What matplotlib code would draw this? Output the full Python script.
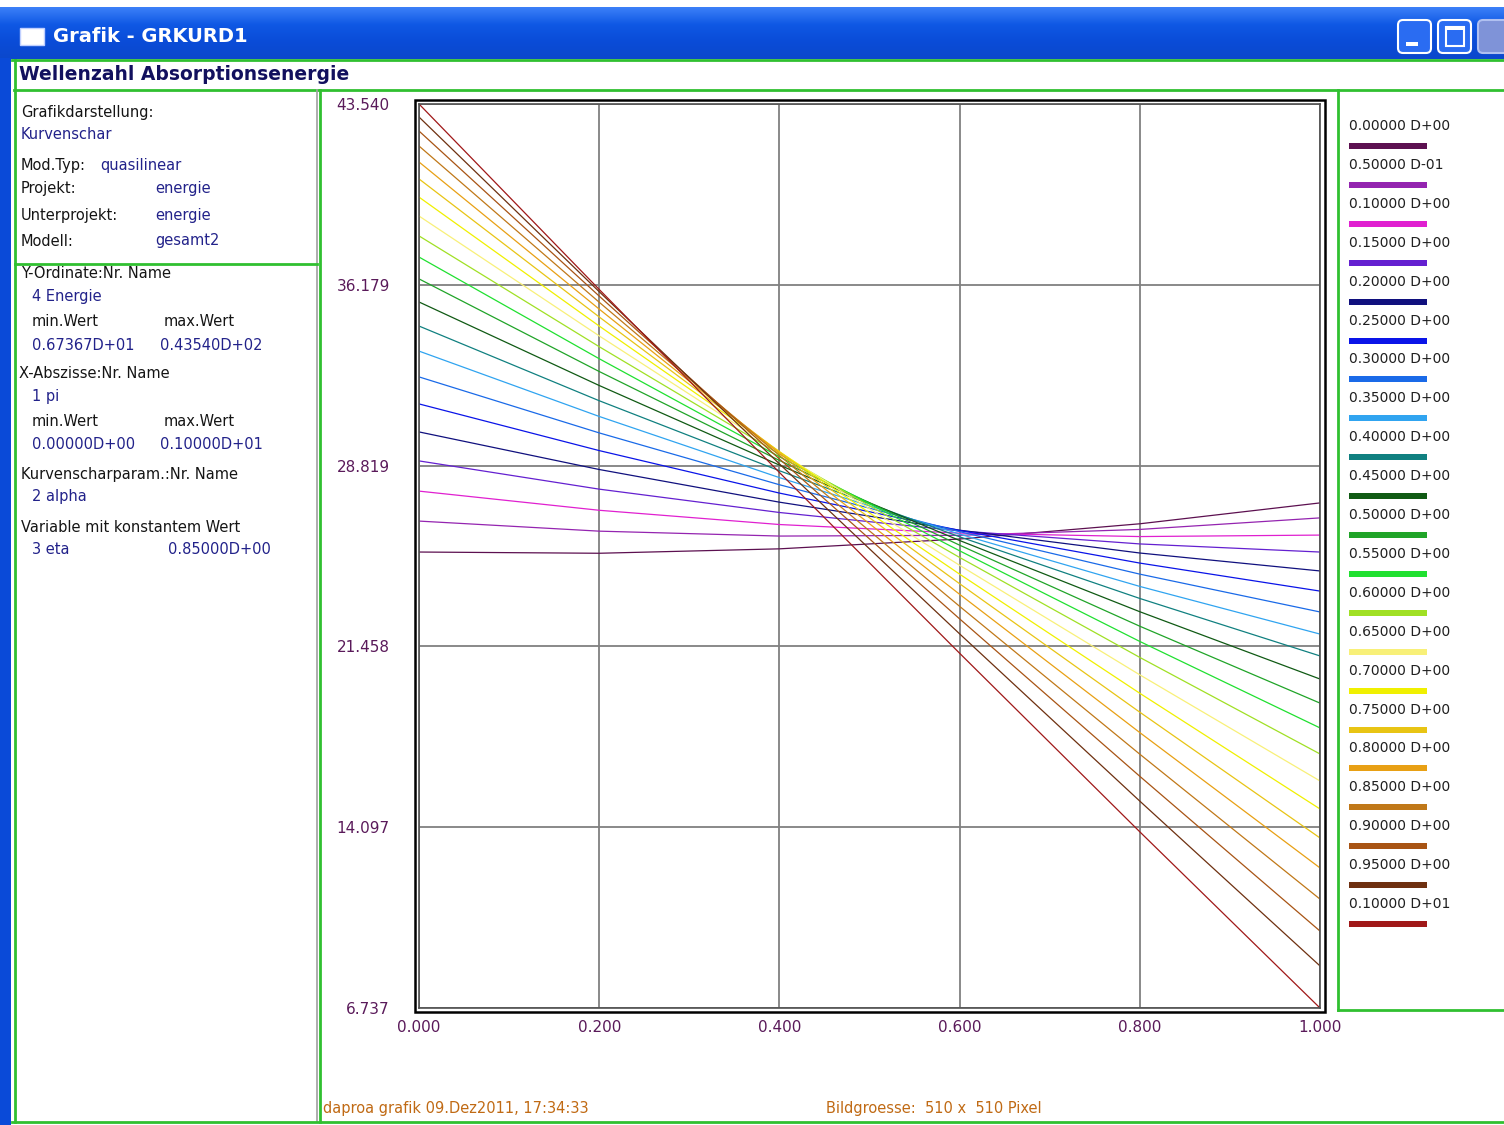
import matplotlib.pyplot as plt
import numpy as np
from matplotlib.patches import Rectangle, FancyBboxPatch
from matplotlib.lines import Line2D
from matplotlib.colors import LinearSegmentedColormap

W, H = 1504, 1125

# x = pi, one curve per alpha (eta = 0.85 fixed)
pi_vals = [0.0, 0.2, 0.4, 0.6, 0.8, 1.0]
alpha_labels = ["0.00000 D+00", "0.50000 D-01", "0.10000 D+00", "0.15000 D+00",
                "0.20000 D+00", "0.25000 D+00", "0.30000 D+00", "0.35000 D+00",
                "0.40000 D+00", "0.45000 D+00", "0.50000 D+00", "0.55000 D+00",
                "0.60000 D+00", "0.65000 D+00", "0.70000 D+00", "0.75000 D+00",
                "0.80000 D+00", "0.85000 D+00", "0.90000 D+00", "0.95000 D+00",
                "0.10000 D+01"]
curve_colors = ["#5c1050", "#9424b0", "#e020d0", "#6420d0", "#10107e", "#0a14e8",
                "#1a6ae8", "#30a4f0", "#108080", "#105a14", "#20a428", "#20e030",
                "#a0e024", "#f8f078", "#f0f000", "#e8c414", "#e8a014", "#c07818",
                "#a85414", "#6e3010", "#a01818"]
energie = [
    [25.30, 25.25, 25.43, 25.83, 26.45, 27.30],
    [26.56, 26.15, 25.95, 25.98, 26.22, 26.69],
    [27.78, 27.00, 26.42, 26.07, 25.93, 25.99],
    [29.01, 27.86, 26.91, 26.16, 25.63, 25.30],
    [30.19, 28.66, 27.33, 26.19, 25.26, 24.53],
    [31.33, 29.43, 27.70, 26.18, 24.85, 23.71],
    [32.43, 30.15, 28.04, 26.13, 24.40, 22.86],
    [33.48, 30.82, 28.33, 26.03, 23.90, 21.96],
    [34.50, 31.46, 28.61, 25.92, 23.41, 21.07],
    [35.48, 32.08, 28.84, 25.77, 22.87, 20.13],
    [36.42, 32.65, 29.03, 25.58, 22.28, 19.15],
    [37.31, 33.17, 29.18, 25.35, 21.66, 18.14],
    [38.17, 33.66, 29.29, 25.08, 21.01, 17.08],
    [38.98, 34.10, 29.36, 24.76, 20.30, 15.98],
    [39.75, 34.50, 29.39, 24.40, 19.55, 14.84],
    [40.49, 34.87, 29.38, 24.01, 18.78, 13.66],
    [41.18, 35.19, 29.32, 23.58, 17.95, 12.44],
    [41.83, 35.47, 29.23, 23.09, 17.07, 11.17],
    [42.44, 35.72, 29.09, 22.58, 16.17, 9.87],
    [43.01, 35.90, 28.89, 21.97, 15.16, 8.45],
    [43.54, 35.99, 28.54, 21.18, 13.91, 6.737],
]
y_ticks = [43.540, 36.179, 28.819, 21.458, 14.097, 6.737]
x_ticks = [0.0, 0.2, 0.4, 0.6, 0.8, 1.0]

info_lines = [
    # (x, y, text, colour)
    (21, 112, "Grafikdarstellung:", "k"),
    (21, 134, "Kurvenschar", "b"),
    (21, 165, "Mod.Typ:", "k"), (100, 165, "quasilinear", "b"),
    (21, 189, "Projekt:", "k"), (155, 189, "energie", "b"),
    (21, 216, "Unterprojekt:", "k"), (155, 216, "energie", "b"),
    (21, 241, "Modell:", "k"), (155, 241, "gesamt2", "b"),
    (21, 274, "Y-Ordinate:Nr. Name", "k"),
    (32, 297, "4 Energie", "b"),
    (32, 322, "min.Wert", "k"), (164, 322, "max.Wert", "k"),
    (32, 345, "0.67367D+01", "b"), (160, 345, "0.43540D+02", "b"),
    (19, 373, "X-Abszisse:Nr. Name", "k"),
    (32, 396, "1 pi", "b"),
    (32, 421, "min.Wert", "k"), (164, 421, "max.Wert", "k"),
    (32, 444, "0.00000D+00", "b"), (160, 444, "0.10000D+01", "b"),
    (21, 474, "Kurvenscharparam.:Nr. Name", "k"),
    (32, 497, "2 alpha", "b"),
    (21, 527, "Variable mit konstantem Wert", "k"),
    (32, 550, "3 eta", "b"), (168, 550, "0.85000D+00", "b"),
]

fig = plt.figure(figsize=(W / 100, H / 100), dpi=100)
fig.patch.set_facecolor("white")


def fx(x):
    return x / W


def fy(y):
    return 1 - y / H


def line(x0, y0, x1, y1, color="#30c030", lw=2.0):
    fig.add_artist(Line2D([fx(x0), fx(x1)], [fy(y0), fy(y1)],
                          transform=fig.transFigure, color=color, lw=lw))


# window title bar
tb = fig.add_axes([0, fy(59), 1, 52 / H])
cmap = LinearSegmentedColormap.from_list("xp", ["#3c80f8", "#0f58e4", "#0a4cd8", "#0c48cc"])
tb.imshow(np.linspace(0, 1, 60)[:, None], aspect="auto", cmap=cmap, extent=[0, W, 59, 7])
tb.set_xlim(0, W)
tb.set_ylim(59, 7)
tb.axis("off")
tb.add_patch(Rectangle((20, 28), 24, 17, facecolor="white", edgecolor="#c0d0ff"))
tb.text(53, 36, "Grafik - GRKURD1", color="white", fontsize=14, fontweight="bold",
        va="center", ha="left")
for bx in (1398, 1438):
    tb.add_patch(FancyBboxPatch((bx, 20), 33, 33, boxstyle="round,pad=0,rounding_size=5",
                                facecolor="#2a6cf2", edgecolor="white", lw=1.5))
tb.add_patch(Rectangle((1406, 42), 12, 4, facecolor="white"))
tb.add_patch(Rectangle((1446, 27), 18, 19, facecolor="none", edgecolor="white", lw=1.5))
tb.add_patch(Rectangle((1446, 27), 18, 3, facecolor="white"))
tb.add_patch(FancyBboxPatch((1478, 20), 33, 33, boxstyle="round,pad=0,rounding_size=5",
                            facecolor="#7f93d8", edgecolor="#b0c0f0", lw=1.5))

# left window border
fig.add_artist(Rectangle((0, 0), fx(11), fy(58), transform=fig.transFigure,
                         facecolor="#0a4ad8", edgecolor="none"))

# green frame lines
line(12, 60, W, 60)
line(14, 90, W, 90)
line(15, 60, 15, 1122)
line(317, 90, 317, 1122, color="#a0a0a0", lw=1.2)
line(320, 90, 320, 1122)
line(15, 264, 317, 264)
line(1338, 90, 1338, 1010)
line(1338, 1010, W, 1010)
line(12, 1122, W, 1122)

fig.text(fx(19), fy(74), "Wellenzahl Absorptionsenergie", color="#12105e",
         fontsize=13.5, fontweight="bold", va="center", ha="left")

for x, y, s, c in info_lines:
    fig.text(fx(x), fy(y), s, color="#151515" if c == "k" else "#22228a",
             fontsize=10.5, va="center", ha="left")

# plot area
ax = fig.add_axes([fx(419), fy(1008), (1320 - 419) / W, (1008 - 104) / H])
for row, col in zip(energie, curve_colors):
    ax.plot(pi_vals, row, color=col, lw=0.9)
ax.set_xlim(0, 1)
ax.set_ylim(6.737, 43.540)
ax.set_xticks(x_ticks)
ax.set_xticklabels([f"{v:.3f}" for v in x_ticks])
ax.set_yticks(y_ticks)
ax.set_yticklabels([f"{v:.3f}" for v in y_ticks])
ax.grid(True, color="#808080", lw=1.3)
ax.set_axisbelow(True)
ax.tick_params(length=0, labelsize=11, labelcolor="#5a1a5a")
ax.tick_params(axis="x", pad=9)
ax.tick_params(axis="y", pad=21)
for sp in ax.spines.values():
    sp.set_color("#505050")
    sp.set_linewidth(1.2)
fig.add_artist(Rectangle((fx(415), fy(1012)), (1325 - 415) / W, (1012 - 100) / H,
                         transform=fig.transFigure, facecolor="none",
                         edgecolor="black", lw=1.8))

# legend
for i, (lab, col) in enumerate(zip(alpha_labels, curve_colors)):
    yl = 126 + i * 38.9
    fig.text(fx(1349), fy(yl), lab, color="#202020", fontsize=10, va="center", ha="left")
    fig.add_artist(Rectangle((fx(1349), fy(yl + 23)), 78 / W, 6 / H,
                             transform=fig.transFigure, facecolor=col, edgecolor="none"))

fig.text(fx(323), fy(1108), "daproa grafik 09.Dez2011, 17:34:33", color="#c06a14",
         fontsize=10.5, va="center", ha="left")
fig.text(fx(826), fy(1108), "Bildgroesse:  510 x  510 Pixel", color="#c06a14",
         fontsize=10.5, va="center", ha="left")

fig.savefig("out.png", dpi=100)
